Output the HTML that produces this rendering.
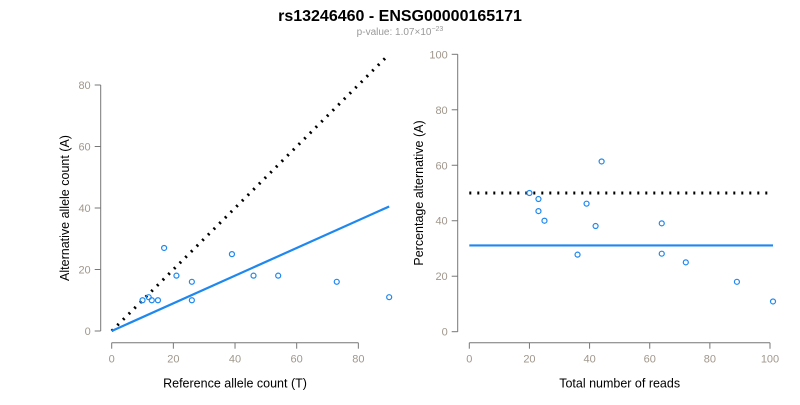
<!DOCTYPE html>
<html><head><meta charset="utf-8"><style>
body{margin:0;background:#fff;font-family:"Liberation Sans",Arial,sans-serif}
svg text{font-family:"Liberation Sans",Arial,sans-serif}
</style></head><body>
<svg id="c" width="800" height="400" xmlns="http://www.w3.org/2000/svg">
<text x="400" y="21" text-anchor="middle" font-size="16" font-weight="bold" fill="#000">rs13246460 - ENSG00000165171</text>
<text x="400" y="35" text-anchor="middle" font-size="10" fill="#999">p-value: 1.07×10<tspan dy="-4" font-size="7">−23</tspan></text>
<g id="left"></g>
<g id="right"></g>
</svg>
<script>
const refCounts=[10,12,13,15,17,21,26,26,39,46,54,73,90];
const altCounts=[10,11,10,10,27,18,16,10,25,18,18,16,11];
const leftXTicks=[0,20,40,60,80];
const leftYTicks=[0,20,40,60,80];
const fitSlope=[0.45];
const rightXTicks=[0,20,40,60,80,100];
const rightYTicks=[0,20,40,60,80,100];
const meanPct=[31.1];
const NS="http://www.w3.org/2000/svg";
function mk(p,t,a){const e=document.createElementNS(NS,t);for(const k in a)e.setAttribute(k,a[k]);p.appendChild(e);return e;}
const L=document.getElementById('left'),R=document.getElementById('right');
const lx=v=>111.7+v*3.083, ly=v=>331-v*3.075;
const rx=v=>469.3+v*3.007, ry=v=>331.7-v*2.774;
function axes(g,xs,ys,xt,yt,axY,axX,xr,yr,xl,yl,ylx){
  let e=mk(g,'line',{x1:xs(xt[0]),x2:xs(xt[xt.length-1]),y1:axY,y2:axY,stroke:'#777'});
  
  xt.forEach(t=>{mk(g,'line',{x1:xs(t),x2:xs(t),y1:axY,y2:axY+6,stroke:'#777'});
    const tx=mk(g,'text',{x:xs(t),y:axY+20,'text-anchor':'middle','font-size':11,fill:'#a0978c'});tx.textContent=t;
    });
  e=mk(g,'line',{x1:axX,x2:axX,y1:ys(yt[0]),y2:ys(yt[yt.length-1]),stroke:'#777'});
  
  yt.forEach(t=>{mk(g,'line',{x1:axX,x2:axX-6,y1:ys(t),y2:ys(t),stroke:'#777'});
    const tx=mk(g,'text',{x:axX-10,y:ys(t)+4,'text-anchor':'end','font-size':11,fill:'#a0978c'});tx.textContent=t;
    });
  let t=mk(g,'text',{x:xs((xt[0]+xt[xt.length-1])/2),y:axY+45,'text-anchor':'middle','font-size':12.5,fill:'#000'});t.textContent=xl;
  
  const cy=ys((yt[0]+yt[yt.length-1])/2);
  t=mk(g,'text',{x:ylx,y:cy,'text-anchor':'middle','font-size':12.5,fill:'#000',transform:`rotate(-90 ${ylx} ${cy})`});t.textContent=yl;
  
}
axes(L,lx,ly,leftXTicks,leftYTicks,342.7,100.7,0,0,'Reference allele count (T)','Alternative allele count (A)',69);
axes(R,rx,ry,rightXTicks,rightYTicks,342.7,457.7,0,0,'Total number of reads','Percentage alternative (A)',423);
const maxRef=Math.max(...refCounts);
let e=mk(L,'line',{x1:lx(0),y1:ly(0),x2:lx(maxRef),y2:ly(maxRef),stroke:'#000','stroke-width':3,'stroke-dasharray':'2 6'});

e=mk(L,'line',{x1:lx(0),y1:ly(0),x2:lx(maxRef),y2:ly(maxRef*fitSlope[0]),stroke:'#1e88f0','stroke-width':2.2});

refCounts.forEach((r,i)=>{const c=mk(L,'circle',{cx:lx(r),cy:ly(altCounts[i]),r:2.5,fill:'none',stroke:'#1e88f0','stroke-width':1.2});
  });
const totals=refCounts.map((r,i)=>r+altCounts[i]);
const maxT=Math.max(...totals);
e=mk(R,'line',{x1:rx(0),y1:ry(50),x2:rx(maxT),y2:ry(50),stroke:'#000','stroke-width':3,'stroke-dasharray':'2 6'});

e=mk(R,'line',{x1:rx(0),y1:ry(meanPct[0]),x2:rx(maxT),y2:ry(meanPct[0]),stroke:'#1e88f0','stroke-width':2.2});

totals.forEach((t,i)=>{const c=mk(R,'circle',{cx:rx(t),cy:ry(altCounts[i]/t*100),r:2.5,fill:'none',stroke:'#1e88f0','stroke-width':1.2});
  });
</script>
</body></html>
